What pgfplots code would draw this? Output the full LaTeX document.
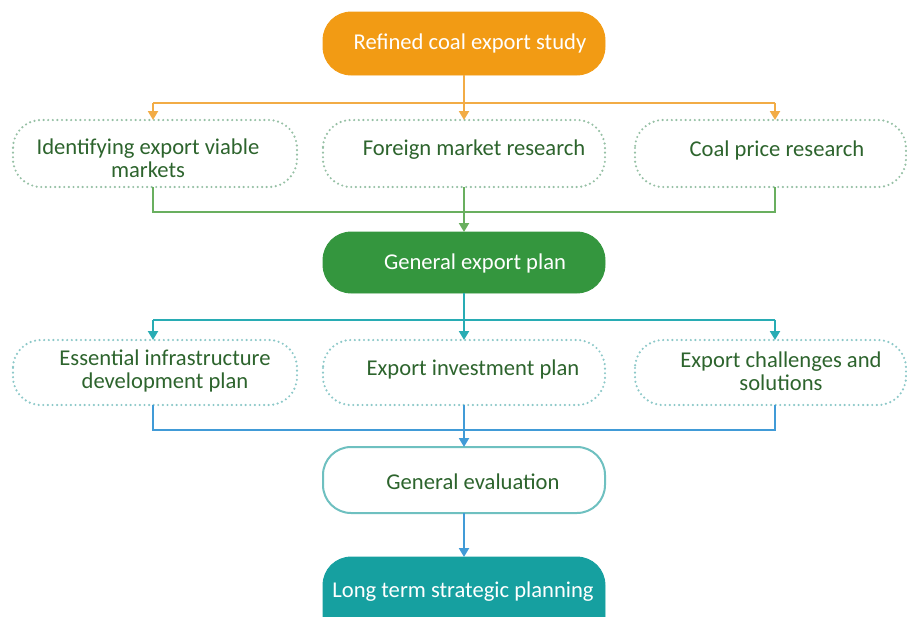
\documentclass[border=0pt]{standalone}
\usepackage{pgfplots}
\pgfplotsset{compat=1.18}
\usepackage{fontspec}
\setmainfont{Carlito}
\usetikzlibrary{arrows.meta}
\definecolor{orangebox}{RGB}{242,155,20}
\definecolor{greenbox}{RGB}{52,150,62}
\definecolor{tealbox}{RGB}{22,160,160}
\definecolor{orangeline}{RGB}{242,172,70}
\definecolor{greenline}{RGB}{105,175,95}
\definecolor{tealline}{RGB}{40,172,180}
\definecolor{blueline}{RGB}{65,155,215}
\definecolor{dotgreen}{RGB}{150,192,165}
\definecolor{dotteal}{RGB}{140,200,200}
\definecolor{evalborder}{RGB}{110,192,192}
\definecolor{txtgreen}{RGB}{45,100,45}
\begin{document}
\begin{tikzpicture}
\begin{axis}[
  width=453.5pt, height=308.5pt, scale only axis,
  xmin=0, xmax=907, ymin=0, ymax=617, y dir=reverse,
  axis lines=none, ticks=none,
  every axis plot/.append style={line width=1pt},
]
% --- boxes ---
\draw[orangebox, fill=orangebox, rounded corners=14pt] (axis cs:323,12) rectangle (axis cs:605,75);
\draw[dotgreen, line width=1.2pt, dash pattern=on 0pt off 2.3pt, line cap=round, rounded corners=14pt] (axis cs:13,120) rectangle (axis cs:297,187);
\draw[dotgreen, line width=1.2pt, dash pattern=on 0pt off 2.3pt, line cap=round, rounded corners=14pt] (axis cs:323,120) rectangle (axis cs:605,187);
\draw[dotgreen, line width=1.2pt, dash pattern=on 0pt off 2.3pt, line cap=round, rounded corners=14pt] (axis cs:635,120) rectangle (axis cs:906,187);
\draw[greenbox, fill=greenbox, rounded corners=14pt] (axis cs:323,232) rectangle (axis cs:605,293);
\draw[dotteal, line width=1.2pt, dash pattern=on 0pt off 2.3pt, line cap=round, rounded corners=14pt] (axis cs:13,340) rectangle (axis cs:297,405);
\draw[dotteal, line width=1.2pt, dash pattern=on 0pt off 2.3pt, line cap=round, rounded corners=14pt] (axis cs:323,340) rectangle (axis cs:605,405);
\draw[dotteal, line width=1.2pt, dash pattern=on 0pt off 2.3pt, line cap=round, rounded corners=14pt] (axis cs:635,340) rectangle (axis cs:906,405);
\draw[evalborder, fill=white, line width=1pt, rounded corners=14pt] (axis cs:323,447) rectangle (axis cs:605,513);
\draw[tealbox, fill=tealbox, rounded corners=14pt] (axis cs:323,557) rectangle (axis cs:605,660);
% --- connectors ---
\addplot[orangeline, no marks] coordinates {(464,75) (464,103)};
\addplot[orangeline, no marks] coordinates {(153,103) (775,103)};
\addplot[orangeline, no marks, -{Triangle[width=5pt,length=4.5pt]}] coordinates {(153,102.5) (153,120)};
\addplot[orangeline, no marks, -{Triangle[width=5pt,length=4.5pt]}] coordinates {(464,102.5) (464,120)};
\addplot[orangeline, no marks, -{Triangle[width=5pt,length=4.5pt]}] coordinates {(775,102.5) (775,120)};
\addplot[greenline, no marks] coordinates {(153,187) (153,212) (775,212) (775,187)};
\addplot[greenline, no marks, -{Triangle[width=5pt,length=4.5pt]}] coordinates {(464,187) (464,232)};
\addplot[tealline, no marks] coordinates {(464,293) (464,320)};
\addplot[tealline, no marks] coordinates {(153,320) (775,320)};
\addplot[tealline, no marks, -{Triangle[width=5pt,length=4.5pt]}] coordinates {(153,319.5) (153,340)};
\addplot[tealline, no marks, -{Triangle[width=5pt,length=4.5pt]}] coordinates {(464,319.5) (464,340)};
\addplot[tealline, no marks, -{Triangle[width=5pt,length=4.5pt]}] coordinates {(775,319.5) (775,340)};
\addplot[blueline, no marks] coordinates {(153,405) (153,430) (775,430) (775,405)};
\addplot[blueline, no marks, -{Triangle[width=5pt,length=4.5pt]}] coordinates {(464,405) (464,447)};
\addplot[blueline, no marks, -{Triangle[width=5pt,length=4.5pt]}] coordinates {(464,513) (464,557)};
% --- text ---
\tikzset{lbl/.style={font=\fontsize{11.3}{11.6}\selectfont, align=center, inner sep=0pt}}
\node[lbl, white] at (axis cs:470,43) {Refined coal export study};
\node[lbl, txtgreen] at (axis cs:148,158) {Identifying export viable\\markets};
\node[lbl, txtgreen] at (axis cs:474,150) {Foreign market research};
\node[lbl, txtgreen] at (axis cs:777,150) {Coal price research};
\node[lbl, white] at (axis cs:475,263) {General export plan};
\node[lbl, txtgreen] at (axis cs:165,371) {Essential infrastructure\\development plan};
\node[lbl, txtgreen] at (axis cs:473,369) {Export investment plan};
\node[lbl, txtgreen] at (axis cs:781,371) {Export challenges and\\solutions};
\node[lbl, txtgreen] at (axis cs:473,482) {General evaluation};
\node[lbl, white] at (axis cs:463,592) {Long term strategic planning};
\end{axis}
\pgfresetboundingbox
\useasboundingbox (current axis.south west) rectangle (current axis.north east);
\end{tikzpicture}
\end{document}
